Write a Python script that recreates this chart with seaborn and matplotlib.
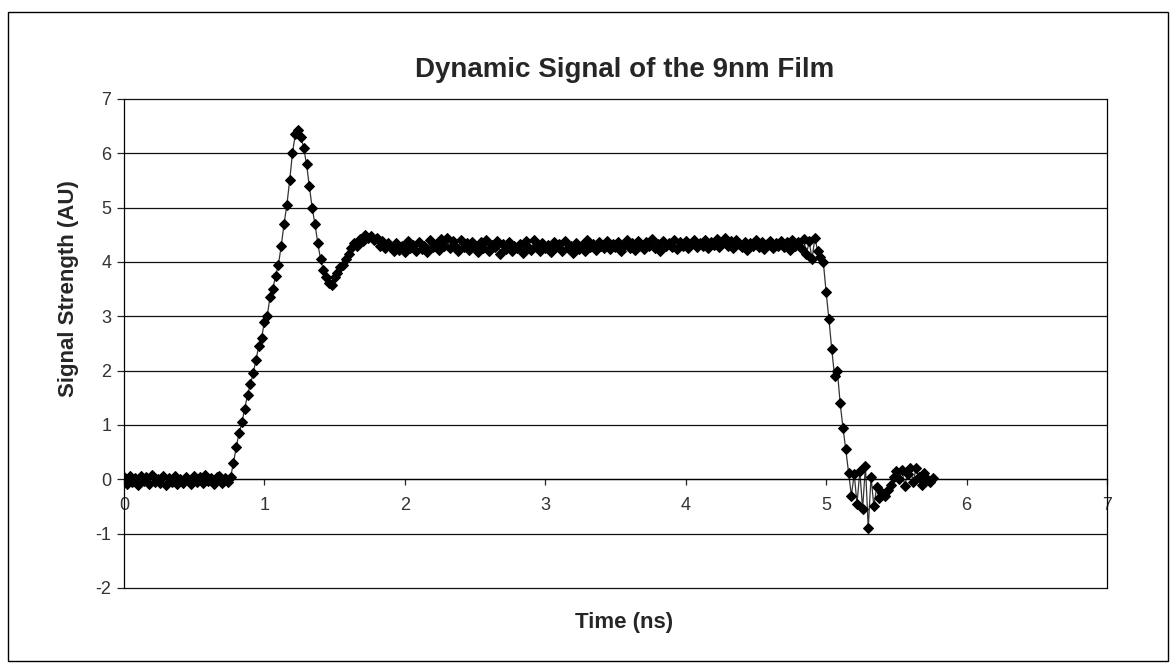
import numpy as np
import seaborn as sns
import matplotlib.pyplot as plt
from matplotlib.patches import Rectangle

# sample spacing of the scope trace (ns)
t_step = 0.02

# 0.00 - 0.74 ns, flat baseline
baseline_sig = [0.05, -0.08, 0.06, -0.05, 0.02, -0.1, 0.07, -0.03, 0.04, -0.09,
                0.08, -0.04, 0.0, -0.07, 0.06, -0.1, 0.03, -0.05, 0.07, -0.08,
                0.01, -0.06, 0.05, -0.02, -0.09, 0.06, -0.04, 0.04, -0.07, 0.08,
                -0.03, 0.02, -0.08, 0.05, 0.06, -0.06, 0.03, -0.05]
# 0.76 - 1.88 ns, rise, overshoot peak and dip
rise_sig = [0.05, 0.3, 0.6, 0.85, 1.05, 1.3, 1.55, 1.75, 1.95, 2.2,
            2.45, 2.6, 2.9, 3.0, 3.35, 3.5, 3.75, 3.95, 4.3, 4.7,
            5.05, 5.5, 6.0, 6.35, 6.42, 6.3, 6.1, 5.8, 5.4, 5.0,
            4.7, 4.35, 4.05, 3.85, 3.72, 3.62, 3.58, 3.72, 3.8, 3.9,
            3.95, 4.05, 4.15, 4.25, 4.35, 4.3, 4.42, 4.38, 4.5, 4.45,
            4.48, 4.4, 4.45, 4.3, 4.38, 4.25, 4.35]
# 1.90 - 4.84 ns, plateau
plateau_sig = [4.28, 4.2, 4.35, 4.22, 4.3, 4.18, 4.38, 4.25, 4.32, 4.2,
               4.36, 4.24, 4.3, 4.19, 4.4, 4.27, 4.33, 4.22, 4.42, 4.3,
               4.45, 4.25, 4.38, 4.3, 4.2, 4.4, 4.28, 4.35, 4.22, 4.37,
               4.3, 4.18, 4.36, 4.25, 4.4, 4.2, 4.32, 4.27, 4.38, 4.15,
               4.33, 4.24, 4.36, 4.2, 4.3, 4.26, 4.34, 4.17, 4.38, 4.28,
               4.22, 4.4, 4.3, 4.2, 4.35, 4.25, 4.32, 4.18, 4.37, 4.27,
               4.33, 4.21, 4.38, 4.26, 4.3, 4.16, 4.35, 4.24, 4.31, 4.2,
               4.4, 4.28, 4.34, 4.22, 4.37, 4.3, 4.26, 4.39, 4.23, 4.33,
               4.27, 4.36, 4.2, 4.32, 4.4, 4.25, 4.35, 4.22, 4.38, 4.3,
               4.24, 4.36, 4.29, 4.42, 4.26, 4.33, 4.2, 4.38, 4.3, 4.35,
               4.28, 4.4, 4.23, 4.36, 4.3, 4.38, 4.25, 4.33, 4.41, 4.27,
               4.35, 4.3, 4.4, 4.26, 4.37, 4.32, 4.42, 4.28, 4.36, 4.45,
               4.3, 4.38, 4.25, 4.4, 4.33, 4.28, 4.37, 4.22, 4.35, 4.3,
               4.4, 4.27, 4.36, 4.24, 4.33, 4.38, 4.26, 4.35, 4.3, 4.38,
               4.28, 4.36, 4.22, 4.4, 4.3, 4.37, 4.25, 4.42]
# 4.86 - 5.16 ns, falling edge
fall_sig = [4.15, 4.38, 4.05, 4.45, 4.2, 4.1, 4.0, 3.45, 2.95, 2.4,
            1.9, 2.0, 1.4, 0.95, 0.55, 0.12]
# 5.18 - 5.76 ns, ringing after the edge
ring_sig = [-0.3, 0.1, -0.45, 0.15, -0.55, 0.25, -0.9, 0.05, -0.5, -0.15,
            -0.35, -0.25, -0.3, -0.2, -0.1, 0.05, 0.15, 0.0, 0.18, -0.12,
            0.1, 0.2, -0.05, 0.2, 0.05, -0.1, 0.12, 0.0, -0.05, 0.03]

x_ticks = [0, 1, 2, 3, 4, 5, 6, 7]
y_ticks = [-2, -1, 0, 1, 2, 3, 4, 5, 6, 7]

signal = np.array(baseline_sig + rise_sig + plateau_sig + fall_sig + ring_sig)
time_ns = np.arange(len(signal)) * t_step

sns.set_style('white')
plt.rcParams['font.family'] = ['Liberation Sans', 'DejaVu Sans']
plt.rcParams['axes.unicode_minus'] = False

fig = plt.figure(figsize=(11.76, 6.72), dpi=100)
ax = fig.add_axes([0.1054, 0.125, 0.8359, 0.7277])

sns.lineplot(x=time_ns, y=signal, ax=ax, sort=False, errorbar=None,
             color='#333333', linewidth=0.9, marker='D', markersize=5,
             markerfacecolor='black', markeredgecolor='black')

ax.set_xlim(0, 7)
ax.set_ylim(-2, 7)
ax.set_xticks(x_ticks)
ax.set_yticks(y_ticks)
ax.set_xlabel('')
ax.set_ylabel('')
ax.yaxis.grid(True, color='#111111', linewidth=0.9)
ax.xaxis.grid(False)
ax.set_axisbelow(True)
for gl in ax.get_ygridlines():
    gl.set_clip_on(False)

# excel style: category axis crosses at 0
ax.spines['bottom'].set_position(('data', 0))
ax.spines['top'].set_visible(False)
for s in ['left', 'right', 'bottom']:
    ax.spines[s].set_color('black')
    ax.spines[s].set_linewidth(0.9)
ax.tick_params(axis='x', direction='out', length=4, width=0.9, pad=9,
               labelsize=13, labelcolor='#333333', bottom=True)
ax.tick_params(axis='y', direction='out', length=5, width=0.9, pad=4,
               labelsize=13, labelcolor='#333333', left=True)

fig.text(0.531, 0.896, 'Dynamic Signal of the 9nm Film', ha='center', va='center',
         fontsize=20, fontweight='bold')
fig.text(0.531, 0.074, 'Time (ns)', ha='center', va='center',
         fontsize=16, fontweight='bold')
fig.text(0.058, 0.571, 'Signal Strength (AU)', ha='center', va='center',
         rotation=90, fontsize=16, fontweight='bold')

# chart area border
fig.patches.append(Rectangle((8 / 1176, 1 - 661 / 672), 1160 / 1176, 649 / 672,
                             transform=fig.transFigure, fill=False,
                             edgecolor='black', linewidth=1))

fig.savefig('out.png', dpi=100)
